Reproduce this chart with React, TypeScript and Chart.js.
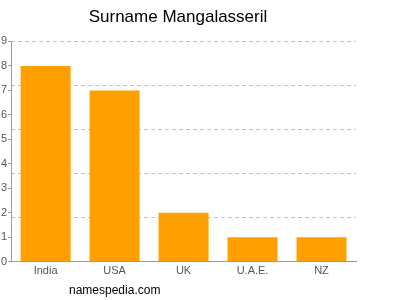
import React, { useEffect, useRef } from "react";
import { Chart, registerables } from "chart.js";

Chart.register(...registerables);

const categories = ["India", "USA", "UK", "U.A.E.", "NZ"];
const counts = [8, 7, 2, 1, 1];
const gridValues = [0, 1.8, 3.6, 5.4, 7.2, 9];
const titleText = "Surname Mangalasseril";
const footerText = "namespedia.com";

export default function App() {
  const ref = useRef<HTMLCanvasElement | null>(null);

  useEffect(() => {
    document.body.style.margin = "0";
    const ctx = ref.current!;
    const chart = new Chart(ctx, {
      type: "bar",
      data: {
        labels: categories,
        datasets: [
          {
            data: counts,
            backgroundColor: "#ffa000",
            borderWidth: 0,
            barPercentage: 0.725,
            categoryPercentage: 1,
            yAxisID: "y",
          },
        ],
      },
      options: {
        responsive: false,
        animation: false,
        events: [],
        layout: { padding: { left: 0, right: 44, top: 5, bottom: 19 } },
        plugins: {
          legend: { display: false },
          tooltip: { enabled: false },
          title: {
            display: true,
            text: titleText,
            color: "#000",
            font: { family: "Liberation Sans, Arial, sans-serif", size: 17, weight: "normal" },
            padding: { top: 2, bottom: 14 },
          },
        },
        scales: {
          x: {
            grid: { display: false, drawTicks: false },
            border: { display: true, color: "#999" },
            ticks: {
              color: "#555",
              padding: 3,
              font: { family: "Liberation Sans, Arial, sans-serif", size: 11 },
            },
          },
          y: {
            position: "left",
            min: 0,
            max: 9,
            grid: { drawOnChartArea: false, tickLength: 3, color: "#999" },
            border: { display: true, color: "#999" },
            ticks: {
              stepSize: 1,
              color: "#555",
              padding: 1,
              font: { family: "Liberation Sans, Arial, sans-serif", size: 11 },
            },
          },
          y2: {
            position: "right",
            min: 0,
            max: 9,
            afterBuildTicks: (axis: any) => {
              axis.ticks = gridValues.map((v) => ({ value: v }));
            },
            grid: { color: "#c0c0c0", drawTicks: false },
            border: { display: false, dash: [4, 3] },
            ticks: { display: false },
          },
        },
      } as any,
    });
    return () => chart.destroy();
  }, []);

  return (
    <div style={{ position: "absolute", left: 0, top: 0, width: 400, height: 300 }}>
      <canvas ref={ref} width={400} height={300} />
      <div
        style={{
          position: "absolute",
          left: 69,
          top: 283,
          fontFamily: "Liberation Sans, Arial, sans-serif",
          fontSize: 12,
          color: "#000",
          lineHeight: "14px",
        }}
      >
        {footerText}
      </div>
    </div>
  );
}
